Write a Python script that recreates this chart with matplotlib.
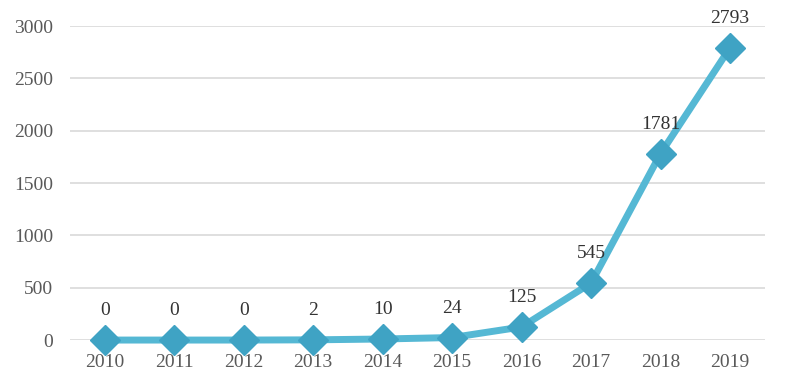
import matplotlib.pyplot as plt

years = ["2010", "2011", "2012", "2013", "2014", "2015", "2016", "2017", "2018", "2019"]
counts = [0, 0, 0, 2, 10, 24, 125, 545, 1781, 2793]

plt.rcParams["font.family"] = ["Liberation Serif", "DejaVu Serif"]

fig = plt.figure(figsize=(8, 3.77), dpi=100)
ax = fig.add_axes([0.0875, 0.098, 0.8685, 0.833])

x = list(range(len(years)))
ax.plot(x, counts, color="#55b8d4", lw=5, marker="D", markersize=15,
        markerfacecolor="#3fa3c4", markeredgecolor="#3fa3c4", zorder=3, clip_on=False)

for xi, v in zip(x, counts):
    ax.annotate(str(v), (xi, v), xytext=(0, 21), textcoords="offset points",
                ha="center", va="center", fontsize=14, color="#333333")

ax.set_xlim(-0.5, len(years) - 0.5)
ax.set_ylim(0, 3000)
ax.set_yticks(range(0, 3001, 500))
ax.set_xticks(x)
ax.set_xticklabels(years)
ax.tick_params(axis="both", length=0, labelsize=14, colors="#595959")
ax.tick_params(axis="x", pad=10)
ax.tick_params(axis="y", pad=12)
ax.grid(axis="y", color="#d9d9d9", lw=1.2)
ax.set_axisbelow(True)
for s in ax.spines.values():
    s.set_visible(False)

fig.savefig("out.png", dpi=100)
